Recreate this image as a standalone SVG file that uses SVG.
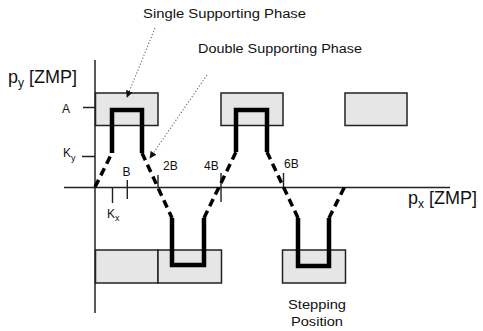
<svg xmlns="http://www.w3.org/2000/svg" width="483" height="331" viewBox="0 0 483 331">
<defs>
<style>
.box{fill:#e6e6e6;stroke:#222;stroke-width:1.5}
.axis{fill:none;stroke:#222;stroke-width:1.5}
.tick{fill:none;stroke:#222;stroke-width:1.4}
.solid{fill:none;stroke:#000;stroke-width:4.5;stroke-linejoin:miter}
.dash{fill:none;stroke:#000;stroke-width:3.5;stroke-dasharray:8 5}
.dot{fill:none;stroke:#666;stroke-width:1.1;stroke-dasharray:1.2 2}
text{font-family:"Liberation Sans",Arial,sans-serif;fill:#111}
.lbl{font-size:12px}
.big{font-size:18px}
</style>
<marker id="ah" viewBox="0 0 10 10" refX="9" refY="5" markerWidth="7" markerHeight="7" markerUnits="userSpaceOnUse" orient="auto">
<path d="M0,0 L10,5 L0,10 z" fill="#111"/>
</marker>
</defs>
<g id="boxes">
<rect id="top1" class="box" x="95.5" y="93" width="62.5" height="32.5"/>
<rect id="top2" class="box" x="221" y="93" width="62" height="32.5"/>
<rect id="top3" class="box" x="345" y="93" width="62" height="32.5"/>
<rect id="bot1" class="box" x="95.5" y="250" width="62.5" height="33"/>
<rect id="bot2" class="box" x="158" y="250" width="63.5" height="33"/>
<rect id="bot3" class="box" x="282.5" y="250" width="63" height="33"/>
</g>
<g id="axes">
<path class="axis" d="M95,60 V313"/>
<path class="axis" d="M64,187.5 H450"/>
<path class="tick" d="M83,107.5 H95 M82,156.5 H95 M112.5,187.5 V203 M127.3,180 V199 M158,175 V187.5 M221,173 V202 M283.5,173 V187.5"/>
</g>
<g id="connectors">
<path class="solid" d="M112,153 V110 H142 V153"/>
<path class="solid" d="M172,218 V265 H204 V218"/>
<path class="solid" d="M236,152 V110 H267 V152"/>
<path class="solid" d="M298,218 V266 H329 V218"/>
<path class="dash" d="M95,187 L112,153"/>
<path class="dash" d="M142,153 L172,218"/>
<path class="dash" d="M204,218 L236,152"/>
<path class="dash" d="M267,152 L298,218"/>
<path class="dash" d="M329,218 L346,184"/>
<path class="dot" d="M155,28 L127,97" marker-end="url(#ah)"/>
<path class="dot" d="M207,75 L150,158" marker-end="url(#ah)"/>
</g>
<g id="labels">
<text class="lbl" x="143" y="18" textLength="163" lengthAdjust="spacingAndGlyphs">Single Supporting Phase</text>
<text class="lbl" x="198" y="53" textLength="164" lengthAdjust="spacingAndGlyphs">Double Supporting Phase</text>
<text class="big" x="8" y="83">p<tspan font-size="12" dy="4">y</tspan><tspan dy="-4"> [ZMP]</tspan></text>
<text class="big" x="408" y="204">p<tspan font-size="12" dy="4">x</tspan><tspan dy="-4"> [ZMP]</tspan></text>
<text class="lbl" x="62" y="113">A</text>
<text class="lbl" x="63" y="157">K<tspan font-size="9" dy="4">y</tspan></text>
<text class="lbl" x="107" y="218">K<tspan font-size="9" dy="3">x</tspan></text>
<text class="lbl" x="122.5" y="176">B</text>
<text class="lbl" x="163" y="170">2B</text>
<text class="lbl" x="204" y="170">4B</text>
<text class="lbl" x="284" y="168">6B</text>
<text class="lbl" x="288" y="309" textLength="58" lengthAdjust="spacingAndGlyphs">Stepping</text>
<text class="lbl" x="291" y="326" textLength="52" lengthAdjust="spacingAndGlyphs">Position</text>
</g>
</svg>
